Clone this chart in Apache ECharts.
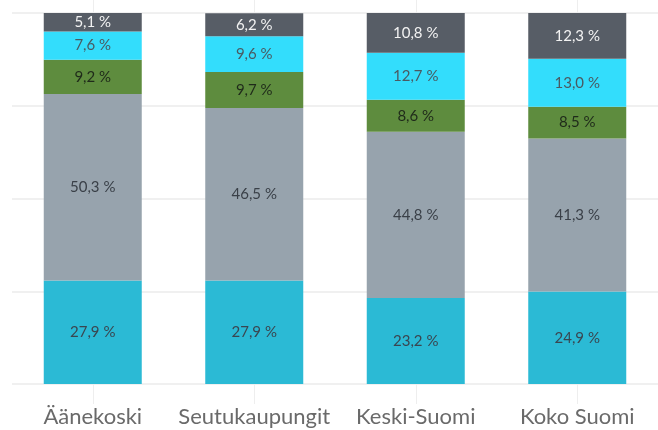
<!DOCTYPE html>
<html><head><meta charset="utf-8">
<script src="https://cdn.jsdelivr.net/npm/echarts@6/dist/echarts.min.js"></script>
<style>html,body{margin:0;padding:0;background:#fff}#c{width:658px;height:430px}</style>
</head><body><div id="c"></div>
<script>
const categories = ['Äänekoski', 'Seutukaupungit', 'Keski-Suomi', 'Koko Suomi'];
const seriesBottom = [27.9, 27.9, 23.2, 24.9];
const seriesGrey = [50.3, 46.5, 44.8, 41.3];
const seriesGreen = [9.2, 9.7, 8.6, 8.5];
const seriesCyan = [7.6, 9.6, 12.7, 13.0];
const seriesTop = [5.1, 6.2, 10.8, 12.3];
const yTicks = [0, 25, 50, 75, 100];

const fmt = p => p.value.toFixed(1).replace('.', ',') + ' %';
function mk(name, data, color, labelColor) {
  return {
    name, type: 'bar', stack: 'all', data, barWidth: 98,
    itemStyle: { color },
    label: { show: true, position: 'inside', formatter: fmt, color: labelColor,
      fontFamily: 'Lato', fontSize: 15 },
    emphasis: { disabled: true }
  };
}
const chart = echarts.init(document.getElementById('c'), null, { renderer: 'canvas' });
chart.setOption({
  animation: false,
  grid: { left: 12, top: 13, width: 647, height: 371, containLabel: false },
  xAxis: [{
    type: 'category', data: categories,
    axisLine: { show: false },
    axisTick: { show: true, alignWithLabel: true, length: 20, lineStyle: { color: '#eeeeee' } },
    axisLabel: { interval: 0, color: '#6a6a6a', fontFamily: 'Lato', fontSize: 22, margin: 22 }
  }, {
    type: 'category', data: categories, position: 'top',
    axisLine: { show: false }, axisLabel: { show: false },
    axisTick: { show: true, alignWithLabel: true, length: 13, lineStyle: { color: '#eeeeee' } }
  }],
  yAxis: {
    type: 'value', min: yTicks[0], max: yTicks[yTicks.length - 1], interval: 25,
    axisLabel: { show: false }, axisLine: { show: false }, axisTick: { show: false },
    splitLine: { show: true, lineStyle: { color: '#f0f0f0', width: 2 } }
  },
  series: [
    mk('a', seriesBottom, '#2bbad5', '#3a4650'),
    mk('b', seriesGrey, '#97a3ad', '#3a4048'),
    mk('c', seriesGreen, '#5e8c3e', '#1f2a1a'),
    mk('d', seriesCyan, '#33ddfc', '#4a5a62'),
    mk('e', seriesTop, '#575d66', '#f2f2f2')
  ]
});
</script></body></html>
